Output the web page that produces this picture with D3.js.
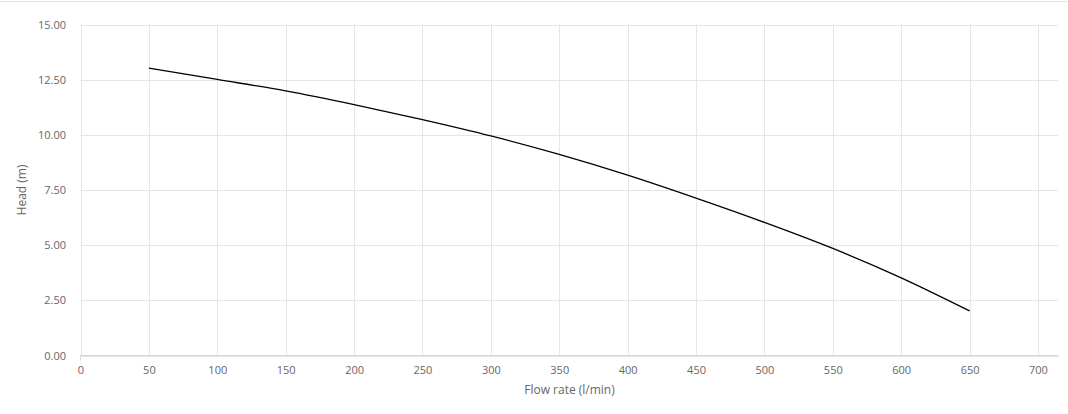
<!DOCTYPE html>
<html>
<head>
<meta charset="utf-8">
<script src="https://cdn.jsdelivr.net/npm/d3@7"></script>
<style>
  html, body { margin: 0; padding: 0; background: #fff; }
  svg { display: block; font-family: "Open Sans", "Noto Sans", sans-serif; }
</style>
</head>
<body>
<svg id="chart" width="1068" height="414"></svg>
<script>
const flow = [50, 100, 150, 200, 250, 300, 350, 400, 450, 500, 550, 600, 650];
const head = [13.02, 12.51, 11.99, 11.37, 10.69, 9.95, 9.11, 8.17, 7.13, 6.03, 4.85, 3.52, 2.02];
const xTicks = [0, 50, 100, 150, 200, 250, 300, 350, 400, 450, 500, 550, 600, 650, 700];
const yTicks = [0, 2.5, 5, 7.5, 10, 12.5, 15];
const xTitle = "Flow rate (l/min)";
const yTitle = "Head (m)";

(function () {
const svg = d3.select("#chart");
const pLeft = 80.5, pRight = 1058.5, pTop = 24.5, pBottom = 355.5;

const x = d3.scaleLinear().domain([0, 715]).range([pLeft, pRight]);
const y = d3.scaleLinear().domain([0, 15]).range([pBottom, pTop]);

// top border line
svg.append("line").attr("x1", 0).attr("x2", 1068).attr("y1", 1.5).attr("y2", 1.5)
  .attr("stroke", "#e6e6e6").attr("stroke-width", 1);

// grid
svg.append("g").selectAll("line").data(xTicks).join("line")
  .attr("x1", d => Math.round(x(d)) + 0.5).attr("x2", d => Math.round(x(d)) + 0.5)
  .attr("y1", pTop).attr("y2", pBottom)
  .attr("stroke", "#e6e6e6");
svg.append("g").selectAll("line").data(yTicks).join("line")
  .attr("x1", pLeft).attr("x2", pRight)
  .attr("y1", d => Math.round(y(d)) + 0.5).attr("y2", d => Math.round(y(d)) + 0.5)
  .attr("stroke", "#e6e6e6");

// x axis line
svg.append("line").attr("x1", pLeft).attr("x2", pRight).attr("y1", pBottom).attr("y2", pBottom)
  .attr("stroke", "#ccd6eb");
svg.append("line").attr("x1", pLeft).attr("x2", pLeft).attr("y1", pBottom).attr("y2", pBottom + 5)
  .attr("stroke", "#ccd6eb");

// x tick labels
const xAxis = d3.axisBottom(x).tickValues(xTicks).tickSize(0).tickPadding(0).tickFormat(d3.format("d"));
const gx = svg.append("g").attr("transform", `translate(0,${pBottom})`).call(xAxis);
gx.select(".domain").remove();
gx.selectAll("text").attr("dy", null).attr("y", 18)
  .attr("fill", "#666").attr("font-size", "11px").attr("font-family", "Open Sans, sans-serif");

// y tick labels
const yAxis = d3.axisLeft(y).tickValues(yTicks).tickSize(0).tickPadding(0).tickFormat(d3.format(".2f"));
const gy = svg.append("g").attr("transform", `translate(66,0)`).call(yAxis);
gy.select(".domain").remove();
gy.selectAll("text").attr("dy", "0.32em").attr("x", 0)
  .attr("fill", "#666").attr("font-size", "11px").attr("font-family", "Open Sans, sans-serif");

// axis titles
svg.append("text").attr("x", (pLeft + pRight) / 2).attr("y", 394)
  .attr("text-anchor", "middle").attr("fill", "#666").attr("font-size", "12px")
  .text(xTitle);
svg.append("text").attr("transform", `translate(26,${(pTop + pBottom) / 2}) rotate(-90)`)
  .attr("text-anchor", "middle").attr("fill", "#666").attr("font-size", "12px")
  .text(yTitle);

// curve
const pts = flow.map((f, i) => [f, head[i]]);
const line = d3.line().x(d => x(d[0])).y(d => y(d[1])).curve(d3.curveMonotoneX);
svg.append("path").datum(pts).attr("d", line)
  .attr("fill", "none").attr("stroke", "#000").attr("stroke-width", 1.3);
})();
</script>
</body>
</html>
